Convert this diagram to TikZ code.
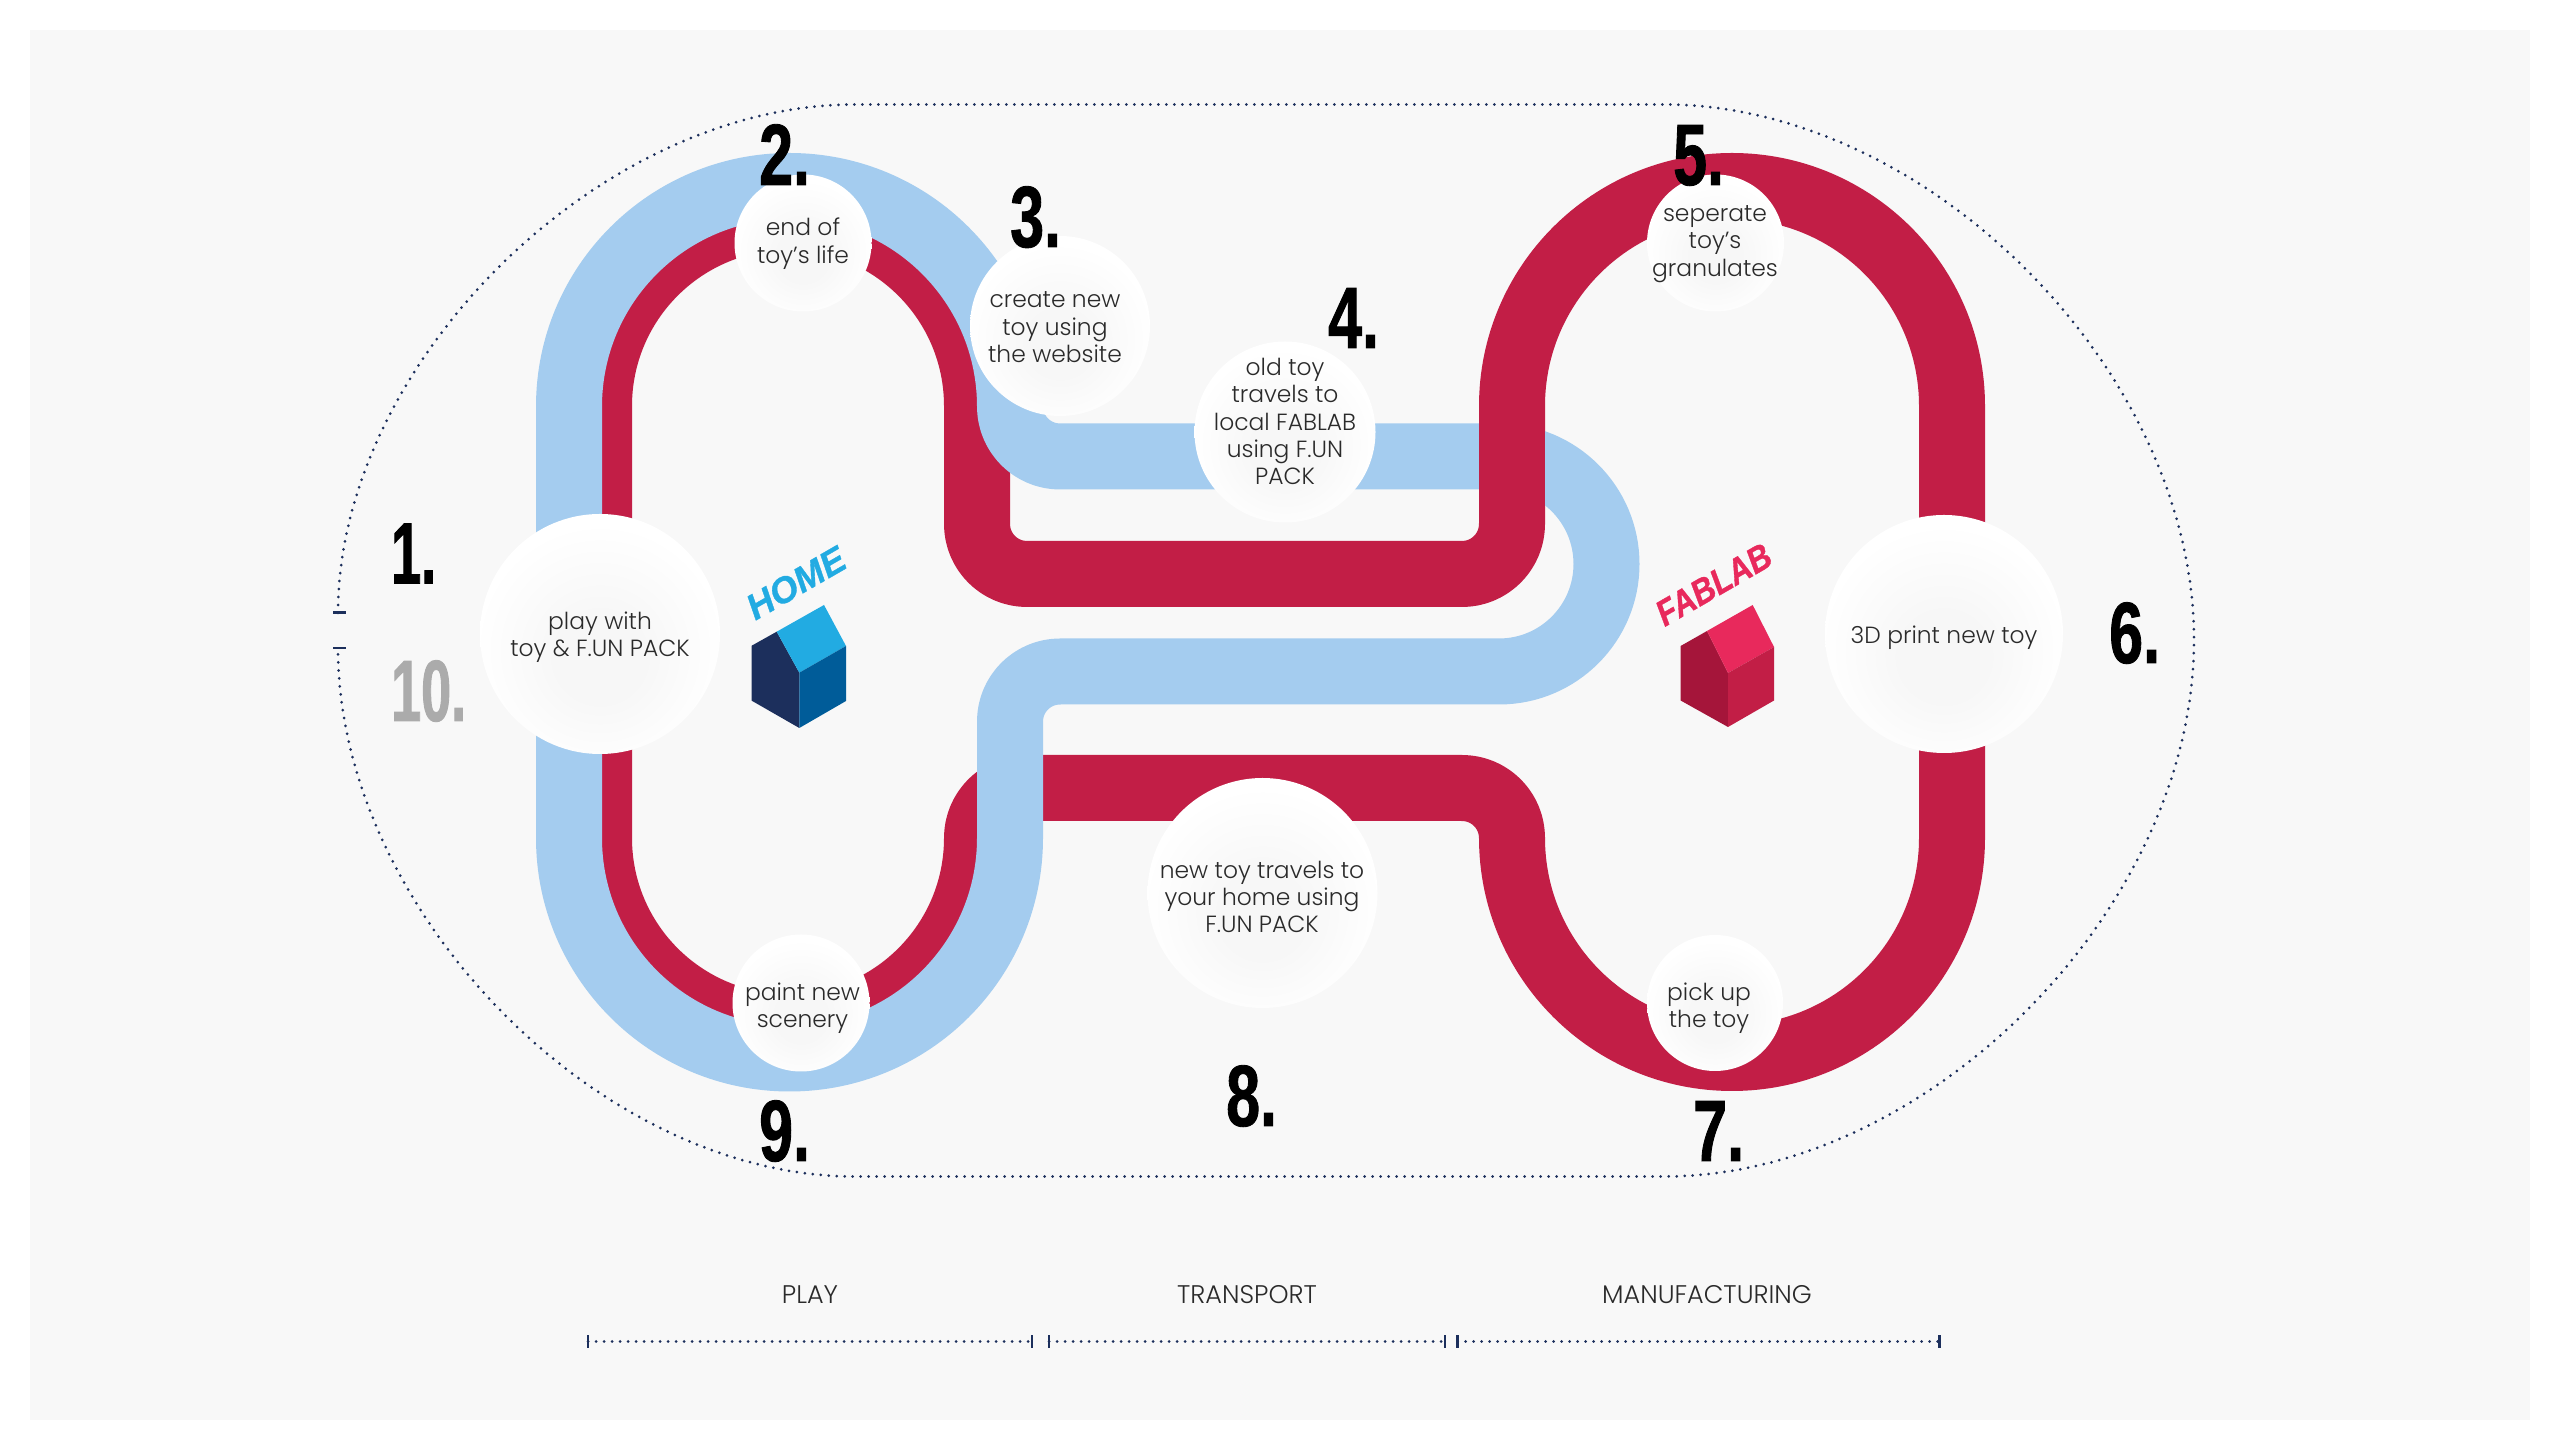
\documentclass[tikz,border=0pt]{standalone}
\usepackage{fontspec}
\setmainfont{Poppins Light}
\newfontfamily\numfont[FakeStretch=0.7,FakeBold=1]{Liberation Sans}
\newfontfamily\numfontnarrow[FakeStretch=0.62,FakeBold=1]{Liberation Sans}
\newfontfamily\labelfont[FakeBold=1]{Liberation Sans}
\newfontfamily\labelfontnarrow[FakeStretch=0.87,FakeBold=1]{Liberation Sans}
\usepackage{xcolor}
\usetikzlibrary{positioning}
\definecolor{panel}{HTML}{F8F8F8}
\definecolor{packblue}{HTML}{A4CCEF}
\definecolor{labred}{HTML}{C21E46}
\definecolor{navy}{HTML}{1C2F5C}
\definecolor{ink}{HTML}{2A2A2A}
\definecolor{homesky}{HTML}{22ABE2}
\definecolor{homedeep}{HTML}{005C99}
\definecolor{labpink}{HTML}{E8295C}
\definecolor{labdark}{HTML}{A5153A}
\pgfdeclareradialshading{stopglow}{\pgfpoint{0bp}{-6bp}}{color(0bp)=(black!3); color(10bp)=(black!3); color(26bp)=(white); color(50bp)=(white)}
\tikzstyle{track} = [line width=66pt,line join=round]
\tikzstyle{dots} = [navy,line width=3pt,line cap=round,dash pattern=on 0pt off 8pt]
\tikzstyle{tick} = [navy,line width=2.6pt]

\begin{document}
\begin{tikzpicture}[
				x=1pt, y=1pt,
				stopdisc/.style= {circle, inner sep=0pt, shading=stopglow},
				stoptext/.style= {align=center, inner sep=0pt, text=ink, font={\fontsize{23.4}{27.4}\selectfont}},
				num/.style= {anchor=base west, inner sep=0pt, font={\numfont\bfseries\fontsize{87}{87}\selectfont}},
				numslim/.style= {num, font={\numfontnarrow\bfseries\fontsize{87}{87}\selectfont}},
				phase/.style= {inner sep=0pt, text=ink, font={\fontsize{25.5}{28}\selectfont}}
			]
			\useasboundingbox (0,0) rectangle (2560,1451);
			\fill[white] (0,0) rectangle (2560,1451);
			\fill[panel] (30,31) rectangle (2530,1421);
			
			% outline, open at the left
			\draw [dots] (338,838) .. controls (338,1085) and (597,1346.5) .. (855,1346.5) -- (1664,1346.5)
				.. controls (1929,1346.5) and (2194,1079) .. (2194,811)
				.. controls (2194,543) and (1929,274.5) .. (1664,274.5) -- (855,274.5)
				.. controls (597,274.5) and (338,543) .. (338,803);
			\draw [tick] (333,838.4) -- (346,838.4);
			\draw [tick] (333,803) -- (346,803);
			
			% red track
			\draw [track, labred] (599,613) -- (599,1045) arc[start angle=180, end angle=0, radius=189]
				-- (977,927) arc[start angle=180, end angle=270, radius=50]
				-- (1462,877) arc[start angle=270, end angle=360, radius=50]
				-- (1512,1045) arc[start angle=180, end angle=0, radius=220]
				-- (1952,613) arc[start angle=0, end angle=-180, radius=220]
				arc[start angle=0, end angle=90, radius=50]
				-- (1027,663) arc[start angle=90, end angle=180, radius=50]
				arc[start angle=0, end angle=-180, radius=189] -- cycle;
			
			% blue track
			\draw [track, packblue] (569,613) -- (569,1044.5) arc[start angle=180, end angle=0, radius=220.5]
				arc[start angle=180, end angle=270, radius=50]
				-- (1499,994.5) arc[start angle=90, end angle=-90, radius=107.5]
				-- (1060,779.5) arc[start angle=90, end angle=180, radius=50]
				-- (1010,613) arc[start angle=0, end angle=-180, radius=220.5] -- cycle;
			
			% red passes over blue here
			\draw [track, labred] (1512,927) -- (1512,1045);
			
			\foreach \n/\x/\y/\d in {play/600/817/240, life/803/1208/137, web/1060/1125/180, pack/1285/1019/181,
				gran/1715.5/1208/137, print/1944/817/238, pick/1715/448/136, home/1262.5/558/230, paint/801/448/137}{
				\node (\n) [stopdisc, minimum size=\d pt] at (\x,\y) {};
			}
			
			\node (playtxt) [stoptext] at (600,813.5) {play with\\toy \& F.UN PACK};
			\node (lifetxt) [stoptext] at (803,1207.5) {end of\\toy's life};
			\node (webtxt) [stoptext] at (1055,1123.5) {create new\\toy using\\the website};
			\node (packtxt) [stoptext] at (1285,1029.5) {old toy\\travels to\\local FABLAB\\using F.UN\\PACK};
			\node (grantxt) [stoptext] at (1715,1207) {seperate\\toy's\\granulates};
			\node (printtxt) [stoptext] at (1944,813) {3D print new toy};
			\node (picktxt) [stoptext] at (1709,442.5) {pick up\\the toy};
			\node (hometxt) [stoptext] at (1262,554) {new toy travels to\\your home using\\F.UN PACK};
			\node (painttxt) [stoptext] at (802.5,442.5) {paint new\\scenery};
			
			\node (n1) [numslim] at (391,867.5) {1.};
			\node (n10) [numslim, text=black!33] at (391,730) {10.};
			\node (n2) [num] at (759,1266) {2.};
			\node (n3) [num] at (1010,1204) {3.};
			\node (n4) [num] at (1328,1103) {4.};
			\node (n5) [num] at (1673,1266) {5.};
			\node (n6) [num] at (2109,788) {6.};
			\node (n7) [num] at (1693,290) {7.};
			\node (n8) [num] at (1226,325) {8.};
			\node (n9) [num] at (759,290) {9.};
			
			% houses
			\fill[navy] (751.7,805.3) -- (776.7,819.3) -- (799.3,778.3) -- (799.3,723) -- (751.7,750.3) -- cycle;
			\fill[homesky] (776.7,819.3) -- (824,846) -- (846,805) -- (799.3,778.3) -- cycle;
			\fill[homedeep] (799.3,778.3) -- (846,805) -- (846,750) -- (799.3,723) -- cycle;
			\node (homelbl) [inner sep=0pt, rotate=30, text=homesky, font={\labelfont\bfseries\itshape\fontsize{36}{36}\selectfont}] at (796,868) {HOME};
			
			\fill[labdark] (1680.6,805) -- (1707,820) -- (1728,778) -- (1728,724) -- (1680.6,750.5) -- cycle;
			\fill[labpink] (1707,820) -- (1752.7,846) -- (1774,804) -- (1728,778) -- cycle;
			\fill[labred] (1728,778) -- (1774,804) -- (1774,750.5) -- (1728,724) -- cycle;
			\node (fablbl) [inner sep=0pt, rotate=30, text=labpink, font={\labelfontnarrow\bfseries\itshape\fontsize{36}{36}\selectfont}] at (1713.6,866.5) {FABLAB};
			
			\node (playlbl) [phase] at (810,156) {PLAY};
			\node (translbl) [phase] at (1247,156) {TRANSPORT};
			\node (manulbl) [phase] at (1707,156) {MANUFACTURING};
			
			\foreach \a/\b in {588/1032, 1049/1445, 1457.6/1939.4}{
				\draw [dots] (\a,109.5) -- (\b,109.5);
				\draw [tick] (\a,103) -- (\a,116);
				\draw [tick] (\b,103) -- (\b,116);
			}
		\end{tikzpicture}
\end{document}
